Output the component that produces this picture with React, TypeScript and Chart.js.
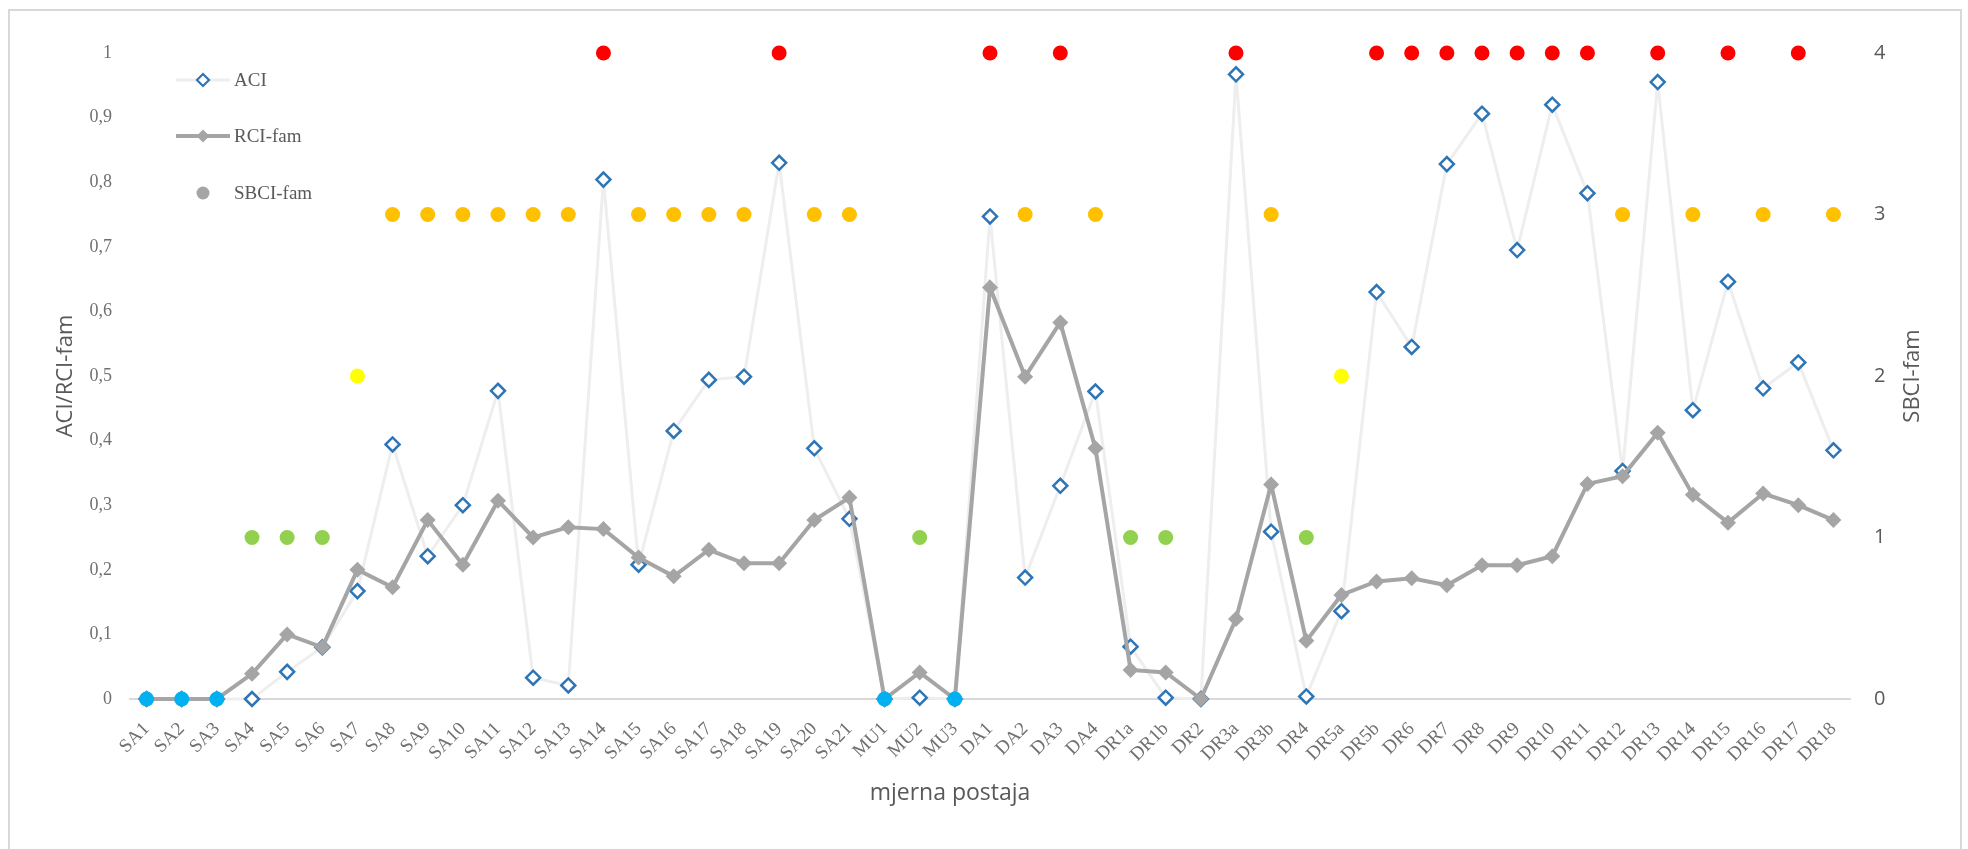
import React, { useEffect, useRef } from 'react';
import { Chart, registerables } from 'chart.js';

Chart.register(...registerables);

const categories = [
  'SA1', 'SA2', 'SA3', 'SA4', 'SA5', 'SA6', 'SA7', 'SA8', 'SA9', 'SA10', 'SA11', 'SA12', 'SA13', 'SA14',
  'SA15', 'SA16', 'SA17', 'SA18', 'SA19', 'SA20', 'SA21', 'MU1', 'MU2', 'MU3', 'DA1', 'DA2', 'DA3', 'DA4',
  'DR1a', 'DR1b', 'DR2', 'DR3a', 'DR3b', 'DR4', 'DR5a', 'DR5b', 'DR6', 'DR7', 'DR8', 'DR9', 'DR10', 'DR11',
  'DR12', 'DR13', 'DR14', 'DR15', 'DR16', 'DR17', 'DR18',
];

const aciValues = [
  0, 0, 0, 0, 0.042, 0.08, 0.167, 0.394, 0.221, 0.3, 0.477, 0.033, 0.021, 0.804,
  0.208, 0.415, 0.494, 0.499, 0.83, 0.388, 0.279, 0, 0.002, 0, 0.747, 0.188, 0.33, 0.476,
  0.081, 0.002, 0, 0.967, 0.259, 0.004, 0.136, 0.63, 0.545, 0.828, 0.906, 0.695, 0.92, 0.783,
  0.353, 0.955, 0.447, 0.646, 0.481, 0.521, 0.385,
];

const rciValues = [
  0, 0, 0, 0.039, 0.1, 0.08, 0.2, 0.173, 0.277, 0.208, 0.307, 0.25, 0.266, 0.263,
  0.219, 0.19, 0.231, 0.21, 0.21, 0.277, 0.312, 0, 0.041, 0, 0.637, 0.499, 0.583, 0.388,
  0.045, 0.041, 0, 0.124, 0.332, 0.09, 0.161, 0.182, 0.187, 0.176, 0.207, 0.207, 0.221, 0.333,
  0.345, 0.412, 0.316, 0.273, 0.318, 0.3, 0.277,
];

const sbciValues: (number | null)[] = [
  0, 0, 0, 1, 1, 1, 2, 3, 3, 3, 3, 3, 3, 4,
  3, 3, 3, 3, 4, 3, 3, 0, 1, 0, 4, 3, 4, 3,
  1, 1, null, 4, 3, 1, 2, 4, 4, 4, 4, 4, 4, 4,
  3, 4, 3, 4, 3, 4, 3,
];

const sbciColors = ['#00B0F0', '#92D050', '#FFFF00', '#FFC000', '#FF0000'];

const seriesNames = ['ACI', 'RCI-fam', 'SBCI-fam'];
const leftTitle = 'ACI/RCI-fam';
const rightTitle = 'SBCI-fam';
const xTitle = 'mjerna postaja';

const TEXT = '#595959';

function diamondPath(ctx: CanvasRenderingContext2D, x: number, y: number, r: number) {
  ctx.beginPath();
  ctx.moveTo(x, y - r);
  ctx.lineTo(x + r, y);
  ctx.lineTo(x, y + r);
  ctx.lineTo(x - r, y);
  ctx.closePath();
}

const decorPlugin = {
  id: 'decor',
  afterDraw(chart: any) {
    const ctx: CanvasRenderingContext2D = chart.ctx;
    ctx.save();
    // legend
    const lx0 = 176, lx1 = 230, mx = 203, tx = 234;
    const rows = [80, 136, 193];
    // ACI
    ctx.strokeStyle = '#eeeeee';
    ctx.lineWidth = 3;
    ctx.beginPath(); ctx.moveTo(lx0, rows[0]); ctx.lineTo(lx1, rows[0]); ctx.stroke();
    diamondPath(ctx, mx, rows[0], 6);
    ctx.fillStyle = '#ffffff'; ctx.fill();
    ctx.strokeStyle = '#2E75B6'; ctx.lineWidth = 2.2; ctx.stroke();
    // RCI
    ctx.strokeStyle = '#a5a5a5';
    ctx.lineWidth = 4;
    ctx.beginPath(); ctx.moveTo(lx0, rows[1]); ctx.lineTo(lx1, rows[1]); ctx.stroke();
    diamondPath(ctx, mx, rows[1], 6.5);
    ctx.fillStyle = '#a5a5a5'; ctx.fill();
    // SBCI
    ctx.beginPath(); ctx.arc(mx, rows[2], 6.5, 0, Math.PI * 2);
    ctx.fillStyle = '#a5a5a5'; ctx.fill();
    ctx.fillStyle = TEXT;
    ctx.font = '19px "Liberation Serif"';
    ctx.textAlign = 'left';
    ctx.textBaseline = 'middle';
    seriesNames.forEach((n, i) => ctx.fillText(n, tx, rows[i] + 1));

    // axis titles
    ctx.font = '22px "Open Sans"';
    ctx.fillStyle = TEXT;
    ctx.textAlign = 'center';
    ctx.textBaseline = 'middle';
    const ca = chart.chartArea;
    const cy = (ca.top + ca.bottom) / 2;
    ctx.save();
    ctx.translate(66, cy);
    ctx.rotate(-Math.PI / 2);
    ctx.fillText(leftTitle, 0, 0);
    ctx.restore();
    ctx.save();
    ctx.translate(1913, cy);
    ctx.rotate(-Math.PI / 2);
    ctx.fillText(rightTitle, 0, 0);
    ctx.restore();
    ctx.font = '23px "Open Sans"';
    ctx.fillText(xTitle, 950, 793);
    ctx.restore();
  },
};

export default function App() {
  const canvasRef = useRef<HTMLCanvasElement | null>(null);

  useEffect(() => {
    if (!canvasRef.current) return;
    const chart = new Chart(canvasRef.current, {
      type: 'line',
      data: {
        labels: categories,
        datasets: [
          {
            label: seriesNames[2],
            data: sbciValues,
            yAxisID: 'y2',
            showLine: false,
            clip: false,
            pointStyle: 'circle',
            pointRadius: 7.5,
            pointBorderWidth: 0,
            pointBackgroundColor: (c: any) => (c.raw == null ? 'transparent' : sbciColors[c.raw]),
            pointBorderColor: 'transparent',
            order: 0,
          },
          {
            label: seriesNames[1],
            data: rciValues,
            yAxisID: 'y',
            clip: false,
            borderColor: '#a5a5a5',
            borderWidth: 4,
            pointStyle: 'rectRot',
            pointRadius: 8,
            pointBackgroundColor: '#a5a5a5',
            pointBorderColor: '#a5a5a5',
            pointBorderWidth: 0,
            tension: 0,
            order: 1,
          },
          {
            label: seriesNames[0],
            data: aciValues,
            yAxisID: 'y',
            clip: false,
            borderColor: '#eeeeee',
            borderWidth: 3,
            pointStyle: 'rectRot',
            pointRadius: 7,
            pointBackgroundColor: '#ffffff',
            pointBorderColor: '#2E75B6',
            pointBorderWidth: 2.5,
            tension: 0,
            order: 2,
          },
        ],
      },
      options: {
        responsive: false,
        animation: false,
        layout: { padding: { left: 0, right: 57, top: 53, bottom: 0 } },
        plugins: { legend: { display: false }, tooltip: { enabled: false }, title: { display: false } },
        scales: {
          x: {
            offset: true,
            grid: { display: false },
            border: { display: false },
            ticks: {
              autoSkip: false,
              minRotation: 45,
              maxRotation: 45,
              padding: 11,
              color: '#707070',
              font: { family: 'Liberation Serif', size: 19 },
            },
            afterFit: (s: any) => { s.height = 150; },
          },
          y: {
            position: 'left',
            min: 0,
            max: 1,
            ticks: {
              stepSize: 0.1,
              padding: 17,
              color: '#707070',
              font: { family: 'Liberation Serif', size: 18 },
              callback: (v: any) => {
                const n = Number(v);
                if (Math.abs(n) < 1e-9) return '0';
                if (Math.abs(n - 1) < 1e-9) return '1';
                return n.toFixed(1).replace('.', ',');
              },
            },
            grid: {
              drawTicks: false,
              lineWidth: 2,
              color: (c: any) => (c.tick && Math.abs(c.tick.value) < 1e-9 ? '#d9d9d9' : 'transparent'),
            },
            border: { display: false },
            afterFit: (s: any) => { s.width = 129; },
          },
          y2: {
            position: 'right',
            min: 0,
            max: 4,
            ticks: {
              stepSize: 1,
              padding: 23,
              color: TEXT,
              font: { family: 'Open Sans', size: 20 },
            },
            grid: { display: false, drawTicks: false },
            border: { display: false },
            afterFit: (s: any) => { s.width = 60; },
          },
        },
      },
      plugins: [decorPlugin],
    } as any);
    return () => chart.destroy();
  }, []);

  return (
    <div style={{ position: 'absolute', left: 0, top: 0, width: 1968, height: 849, overflow: 'hidden', background: '#ffffff' }}>
      <div
        style={{
          position: 'absolute',
          left: 8,
          top: 9,
          width: 1954,
          height: 880,
          border: '2px solid #d9d9d9',
          boxSizing: 'border-box',
        }}
      />
      <canvas ref={canvasRef} width={1968} height={849} style={{ position: 'absolute', left: 0, top: 0, display: 'block' }} />
    </div>
  );
}
